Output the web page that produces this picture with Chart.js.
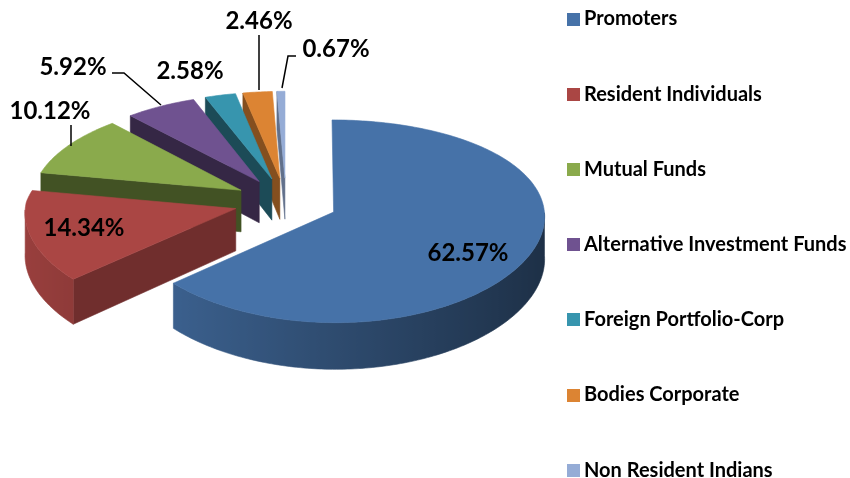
<!DOCTYPE html>
<html>
<head>
<meta charset="utf-8">
<script src="https://cdn.jsdelivr.net/npm/chart.js@4"></script>
<style>
    html, body { margin: 0; padding: 0; background: #fff; }
    canvas { display: block; }
</style>
</head>
<body>
<canvas id="holding" width="850" height="478"></canvas>
<script>
const categories = ['Promoters', 'Resident Individuals', 'Mutual Funds', 'Alternative Investment Funds',
    'Foreign Portfolio-Corp', 'Bodies Corporate', 'Non Resident Indians'];
const shares = [62.57, 14.34, 10.12, 5.92, 2.58, 2.46, 0.67];
const colors = ['#4672A8', '#AA4644', '#8AAA4C', '#6F5290', '#3795AE', '#DC8433', '#95ACD6'];
const cutFaceShade = [0.5, 0.66, 0.48, 0.48, 0.5, 0.6, 0.65];

// where the percent labels sit, and the little leader lines
const labelSpots = [[468, 253], [84, 228], [50, 111], [73, 67], [190, 71], [259, 21], [336, 49]];
const leaders = [
    [[71, 125], [71, 146]],
    [[112, 73], [124, 73], [161, 105]],
    [[259, 35], [259, 90]],
    [[296, 56], [288, 56], [282, 88]]
];

// fake 3D view
const centre = [286, 202];
const squash = 0.47;   // how flat the disc is
const persp = 0.09;    // front is bigger than back
const depth = 42;      // wall height

function project(x, y, z, radius) {
    const s = 1 / (1 - persp * y / radius);
    // sideways the perspective is weaker, except for the back left slices
    const sx = (x < 0 && y < 0) ? s : 1 + (s - 1) * 0.4;
    return [centre[0] + x * sx, centre[1] + squash * y * s + z * s];
}

function shade(hex, f) {
    const n = parseInt(hex.slice(1), 16);
    const r = Math.round((n >> 16 & 255) * f);
    const g = Math.round((n >> 8 & 255) * f);
    const b = Math.round((n & 255) * f);
    return 'rgb(' + r + ',' + g + ',' + b + ')';
}

function fillPoly(ctx, pts, color) {
    ctx.beginPath();
    pts.forEach((p, i) => i ? ctx.lineTo(p[0], p[1]) : ctx.moveTo(p[0], p[1]));
    ctx.closePath();
    ctx.fillStyle = color;
    ctx.strokeStyle = color;
    ctx.lineWidth = 0.6;
    ctx.fill();
    ctx.stroke();
}

function drawSlice(ctx, arc, color, cutShade) {
    const r = arc.outerRadius;
    const start = arc.startAngle;
    const end = arc.endAngle;
    const mid = (start + end) / 2;
    const ox = Math.cos(mid) * arc.options.offset;
    const oy = Math.sin(mid) * arc.options.offset;
    const rim = (a, z) => project(ox + Math.cos(a) * r, oy + Math.sin(a) * r, z, r);
    const tip = z => project(ox, oy, z, r);
    const steps = Math.max(2, Math.ceil((end - start) * 60));

    // the cut face on the start side only shows if it looks at the viewer
    if (Math.cos(start) < -0.001) {
        fillPoly(ctx, [tip(0), rim(start, 0), rim(start, depth), tip(depth)], shade(color, cutShade));
    }
    // outer wall, only the part facing front, darker to the right
    const front = [];
    for (let i = 0; i <= steps; i++) {
        const a = start + (end - start) * i / steps;
        if (Math.sin(a) >= 0) front.push(a);
    }
    if (front.length > 1) {
        const xs = front.map(a => rim(a, 0)[0]);
        const xMin = Math.min(...xs);
        const xMax = Math.max(...xs);
        const grad = ctx.createLinearGradient(xMin, 0, xMax, 0);
        front.forEach((a, i) => {
            grad.addColorStop((xs[i] - xMin) / (xMax - xMin), shade(color, 0.66 - 0.24 * Math.cos(a)));
        });
        const wall = front.map(a => rim(a, 0)).concat(front.slice().reverse().map(a => rim(a, depth)));
        fillPoly(ctx, wall, grad);
    }
    // top
    const top = [tip(0)];
    for (let i = 0; i <= steps; i++) top.push(rim(start + (end - start) * i / steps, 0));
    fillPoly(ctx, top, color);
}

const pie3d = {
    id: 'pie3d',
    afterLayout(chart) {
        // legend goes where the reference has it
        const legend = chart.legend;
        const pad = legend.options.labels.padding;
        legend.left = 573 - pad;
        legend.top = 9 - pad;
    },
    beforeDatasetsDraw(chart) {
        const ctx = chart.ctx;
        const arcs = chart.getDatasetMeta(0).data;
        ctx.save();
        // back slices first
        for (let i = arcs.length - 1; i >= 0; i--) {
            drawSlice(ctx, arcs[i], colors[i], cutFaceShade[i]);
        }
        ctx.strokeStyle = '#000';
        ctx.lineWidth = 1.5;
        leaders.forEach(line => {
            ctx.beginPath();
            line.forEach((p, i) => i ? ctx.lineTo(p[0], p[1]) : ctx.moveTo(p[0], p[1]));
            ctx.stroke();
        });
        ctx.fillStyle = '#000';
        ctx.font = 'bold 24px Lato';
        ctx.textAlign = 'center';
        ctx.textBaseline = 'middle';
        shares.forEach((v, i) => {
            ctx.fillText(v.toFixed(2) + '%', labelSpots[i][0], labelSpots[i][1]);
        });
        ctx.restore();
        return false; // arcs are done here, skip the flat ones
    }
};

// legend squares, text sits close to them
function swatch(color) {
    const c = document.createElement('canvas');
    c.width = 13;
    c.height = 13;
    const g = c.getContext('2d');
    g.fillStyle = color;
    g.fillRect(0, 0, 13, 13);
    return c;
}

new Chart(document.getElementById('holding').getContext('2d'), {
    type: 'pie',
    plugins: [pie3d],
    data: {
        labels: categories,
        datasets: [{
            data: shares,
            backgroundColor: colors,
            borderWidth: 0,
            offset: 52,
            radius: 210
        }]
    },
    options: {
        responsive: false,
        animation: false,
        events: [],
        layout: { padding: { top: -60, bottom: -60 } },
        plugins: {
            tooltip: { enabled: false },
            legend: {
                position: 'right',
                align: 'start',
                labels: {
                    usePointStyle: true,
                    pointStyleWidth: 1,
                    padding: 55.2,
                    color: '#000',
                    font: { family: 'Lato', weight: 'bold', size: 20, lineHeight: 1 },
                    generateLabels(chart) {
                        return Chart.overrides.pie.plugins.legend.labels.generateLabels(chart).map((l, i) => {
                            l.pointStyle = swatch(colors[i]);
                            return l;
                        });
                    }
                }
            }
        }
    }
});
</script>
</body>
</html>
